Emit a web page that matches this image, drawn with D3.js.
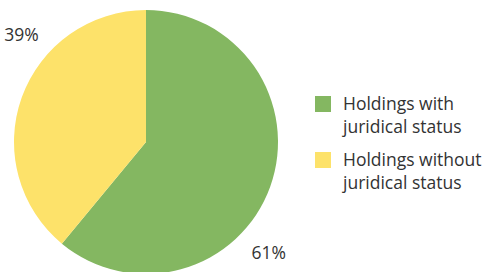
<!DOCTYPE html>
<html><head><meta charset="utf-8">
<script src="https://cdn.jsdelivr.net/npm/d3@7"></script>
<style>body{margin:0;background:#fff}svg{display:block}</style>
</head><body>
<script>
const categories = ["Holdings with juridical status", "Holdings without juridical status"];
const legendLines = [["Holdings with", "juridical status"], ["Holdings without", "juridical status"]];
const values = [61, 39];
const colors = ["#84B761", "#FDE26A"];
const labelAngles = [132, 311]; // degrees, clockwise from top

const W = 487, H = 272;
const svg = d3.select("body").append("svg").attr("width", W).attr("height", H);
const cx = 146, cy = 142, R = 132;
const pie = d3.pie().sort(null).value(d => d)(values);
const arc = d3.arc().innerRadius(0).outerRadius(R);
const g = svg.append("g").attr("transform", `translate(${cx},${cy})`);
g.selectAll("path").data(pie).enter().append("path")
  .attr("d", arc).attr("fill", (d, i) => colors[i]);

const font = "'Segoe UI', 'Open Sans', 'Noto Sans', sans-serif";
const lr = 165;
g.selectAll("text.lbl").data(pie).enter().append("text")
  .attr("class", "lbl")
  .attr("x", (d, i) => lr * Math.sin(labelAngles[i] * Math.PI / 180))
  .attr("y", (d, i) => -lr * Math.cos(labelAngles[i] * Math.PI / 180))
  .attr("text-anchor", "middle").attr("dominant-baseline", "central")
  .attr("font-family", font).attr("font-size", 17.5).attr("fill", "#333")
  .text(d => d.data + "%");

const lg = svg.append("g").attr("transform", "translate(315,96)");
const items = lg.selectAll("g").data(categories).enter().append("g")
  .attr("transform", (d, i) => `translate(0,${i * 56})`);
items.append("rect").attr("width", 16).attr("height", 16).attr("fill", (d, i) => colors[i]);
items.each(function(d, i) {
  const t = d3.select(this).append("text").attr("font-family", font).attr("font-size", 17.5).attr("fill", "#333");
  legendLines[i].forEach((line, j) => {
    t.append("tspan").attr("x", 28).attr("y", 14 + j * 23).text(line);
  });
});
</script>
</body></html>
